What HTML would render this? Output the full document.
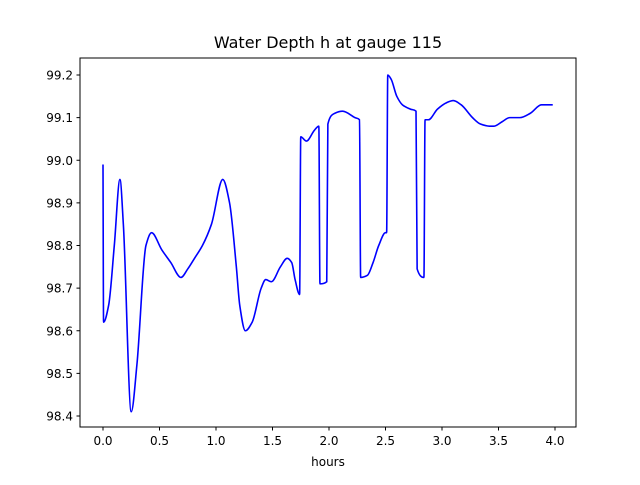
<!DOCTYPE html>
<html><head><meta charset="utf-8"><style>
body{margin:0;background:#fff;font-family:"Liberation Sans","DejaVu Sans",sans-serif}
svg text{font-family:"DejaVu Sans","Liberation Sans",sans-serif}
</style></head><body>
<svg id="chart" width="640" height="480" xmlns="http://www.w3.org/2000/svg">
<rect width="640" height="480" fill="#fff"/>
<text x="328" y="48" font-size="16" text-anchor="middle">Water Depth h at gauge 115</text>
<text x="328" y="466" font-size="12" text-anchor="middle">hours</text>
<g id="axes"></g>
<rect x="80" y="58" width="496" height="369" fill="none" stroke="#000" stroke-width="1"/>
</svg>
<script>
const hours=[0,0.005,0.05,0.1,0.15,0.18,0.25,0.3,0.38,0.43,0.52,0.6,0.69,0.75,0.81,0.88,0.96,1.06,1.12,1.18,1.21,1.26,1.32,1.40,1.44,1.49,1.57,1.63,1.67,1.70,1.74,1.75,1.80,1.87,1.91,1.92,1.98,1.99,2.05,2.12,2.23,2.27,2.28,2.34,2.39,2.44,2.50,2.51,2.52,2.55,2.60,2.65,2.72,2.77,2.78,2.84,2.85,2.88,2.96,3.04,3.10,3.17,3.27,3.34,3.42,3.46,3.53,3.60,3.69,3.78,3.88,3.98];
const depth=[98.99,98.62,98.66,98.80,98.955,98.85,98.41,98.52,98.80,98.83,98.79,98.76,98.725,98.745,98.77,98.80,98.85,98.955,98.9,98.75,98.66,98.60,98.62,98.70,98.72,98.715,98.75,98.77,98.76,98.72,98.685,99.055,99.045,99.07,99.08,98.71,98.715,99.085,99.11,99.115,99.10,99.095,98.725,98.73,98.76,98.80,98.83,98.83,99.2,99.19,99.15,99.13,99.12,99.115,98.745,98.725,99.095,99.095,99.12,99.135,99.14,99.13,99.10,99.085,99.08,99.08,99.09,99.10,99.10,99.11,99.13,99.13];
const xTicks=[0,0.5,1,1.5,2,2.5,3,3.5,4];
const yTicks=[98.4,98.5,98.6,98.7,98.8,98.9,99.0,99.1,99.2];
const X=v=>103+v*113;
const Y=v=>416-(v-98.4)*426.25;
const NS="http://www.w3.org/2000/svg";
const g=document.getElementById('axes');
function mk(t,a){const e=document.createElementNS(NS,t);for(const k in a)e.setAttribute(k,a[k]);g.appendChild(e);return e;}
xTicks.forEach(v=>{
 const l=mk('line',{x1:X(v),x2:X(v),y1:427,y2:430.5,stroke:'#000'});
 
 
 const t=mk('text',{x:X(v),y:445,'font-size':12,'text-anchor':'middle'});t.textContent=v.toFixed(1);
 
 
});
yTicks.forEach(v=>{
 const l=mk('line',{x1:76.5,x2:80,y1:Y(v),y2:Y(v),stroke:'#000'});
 
 
 const t=mk('text',{x:73,y:Y(v)+4.5,'font-size':12,'text-anchor':'end'});t.textContent=v.toFixed(1);
 
 
});
// monotone cubic path
function monoPath(xs,ys){
 const n=xs.length,d=[],m=[];
 for(let i=0;i<n-1;i++)d.push((ys[i+1]-ys[i])/(xs[i+1]-xs[i]));
 m[0]=d[0];m[n-1]=d[n-2];
 for(let i=1;i<n-1;i++){
  if(d[i-1]*d[i]<=0)m[i]=0;
  else{const w1=2*(xs[i+1]-xs[i])+(xs[i]-xs[i-1]),w2=(xs[i+1]-xs[i])+2*(xs[i]-xs[i-1]);m[i]=(w1+w2)/(w1/d[i-1]+w2/d[i]);}
 }
 let s='M'+xs[0]+','+ys[0];
 for(let i=0;i<n-1;i++){
  const h=(xs[i+1]-xs[i])/3;
  s+=' C'+(xs[i]+h)+','+(ys[i]+m[i]*h)+' '+(xs[i+1]-h)+','+(ys[i+1]-m[i+1]*h)+' '+xs[i+1]+','+ys[i+1];
 }
 return s;
}
const px=hours.map(X),py=depth.map(Y);
const p=mk('path',{d:monoPath(px,py),fill:'none',stroke:'#0000ff','stroke-width':1.6,'stroke-linejoin':'round'});


</script>
</body></html>
